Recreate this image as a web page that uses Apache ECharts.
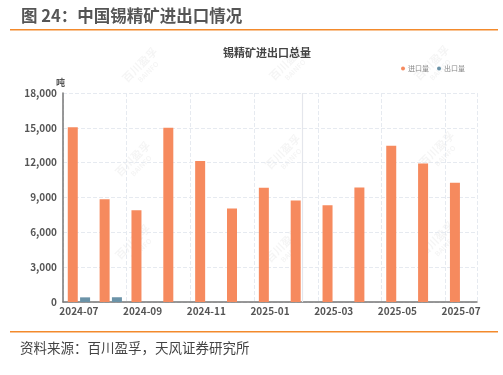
<!DOCTYPE html>
<html>
<head>
<meta charset="utf-8">
<script src="https://cdn.jsdelivr.net/npm/echarts@6/dist/echarts.min.js"></script>
<style>
    html, body {margin: 0; padding: 0; background: #fff;}
    #chart {width: 503px; height: 375px;}
</style>
</head>
<body>
<div id="chart"></div>
<script>
var months = ['2024-07', '2024-08', '2024-09', '2024-10', '2024-11', '2024-12', '2025-01',
    '2025-02', '2025-03', '2025-04', '2025-05', '2025-06', '2025-07'];
var importVals = [15050, 8850, 7900, 15000, 12150, 8050, 9850, 8750, 8330, 9870, 13450, 11920, 10280];
var exportVals = [400, 410, 0, 0, 0, 0, 0, 0, 0, 0, 0, 0, 0];
var yTicks = [0, 3000, 6000, 9000, 12000, 15000, 18000];

var font = '"Noto Sans CJK SC", "Noto Sans", sans-serif';

// 水印
var marks = [[140, 68], [287, 66], [432, 66], [133, 162], [283, 155], [437, 152],
    [133, 245], [283, 248], [437, 242]];
var wm = marks.map(function (p) {
    return {
        type: 'group', x: p[0], y: p[1], rotation: Math.PI / 4, silent: true, z: 0,
        children: [
            {type: 'text', x: -20, y: -8, style: {text: '百川盈孚', fill: 'rgba(0,0,0,0.045)', font: 'bold 11px ' + font}},
            {type: 'text', x: -10, y: 5, style: {text: 'BAINFO', fill: 'rgba(0,0,0,0.045)', font: 'bold 7px ' + font}}
        ]
    };
});

var chart = echarts.init(document.getElementById('chart'));
var option = {
    backgroundColor: '#fff',
    animation: false,
    textStyle: {fontFamily: font},
    title: {
        text: '锡精矿进出口总量',
        left: 218,
        top: 42,
        textStyle: {fontSize: 11, fontWeight: 'bold', color: '#444', fontFamily: font}
    },
    legend: {
        right: 33,
        top: 60,
        icon: 'circle',
        itemWidth: 4,
        itemHeight: 4,
        itemGap: 8,
        textStyle: {fontSize: 7, color: '#888', padding: [0, 0, 0, -2]},
        data: ['进口量', '出口量']
    },
    grid: {left: 63, right: 26, top: 93, bottom: 73},
    xAxis: {
        type: 'category',
        data: months,
        axisLine: {lineStyle: {color: '#777', width: 1.5}},
        axisTick: {show: false},
        axisLabel: {interval: 1, fontSize: 10, fontWeight: 'bold', color: '#555', margin: 4},
        splitLine: {show: true, interval: 1, lineStyle: {color: '#e6eaf0', type: 'dashed'}}
    },
    yAxis: {
        type: 'value',
        min: 0,
        max: 18000,
        interval: 3000,
        name: '吨',
        nameGap: 6,
        nameTextStyle: {fontSize: 9, fontWeight: 'bold', color: '#555', align: 'right', padding: [0, -2, 0, 0]},
        axisLine: {show: true, lineStyle: {color: '#777', width: 1.5}},
        axisTick: {show: false},
        axisLabel: {
            fontSize: 10, fontWeight: 'bold', color: '#555', margin: 6,
            formatter: function (v) {
                return yTicks.indexOf(v) >= 0 ? v.toLocaleString('en-US') : '';
            }
        },
        splitLine: {lineStyle: {color: '#e6eaf0', type: 'dashed'}}
    },
    series: [
        {
            // 竖线，放在无数据的折线上，避免跟柱子偏移
            name: 'guide',
            type: 'line',
            data: [],
            z: 1,
            markLine: {
                silent: true,
                symbol: 'none',
                label: {show: false},
                lineStyle: {color: '#e4e6ec', type: 'solid', width: 1.2},
                data: [{xAxis: '2025-02'}]
            }
        },
        {
            name: '进口量',
            type: 'bar',
            barWidth: 10,
            barGap: '23%',
            itemStyle: {color: '#f68a5e'},
            data: importVals
        },
        {
            name: '出口量',
            type: 'bar',
            barWidth: 10,
            itemStyle: {color: '#6b93a8'},
            data: exportVals
        }
    ],
    graphic: [
        {type: 'text', left: 21, top: 7, style: {text: '图 24：中国锡精矿进出口情况', fill: '#555', font: 'bold 16.5px ' + font}},
        {type: 'rect', shape: {x: 10, y: 29, width: 488, height: 1.5}, style: {fill: '#f38a2c'}},
        {type: 'rect', shape: {x: 10, y: 331, width: 488, height: 1.5}, style: {fill: '#f38a2c'}},
        {type: 'text', left: 20, top: 341, style: {text: '资料来源：百川盈孚，天风证券研究所', fill: '#444', font: '13.5px ' + font}}
    ].concat(wm)
};
chart.setOption(option);   //加载数据
</script>
</body>
</html>
